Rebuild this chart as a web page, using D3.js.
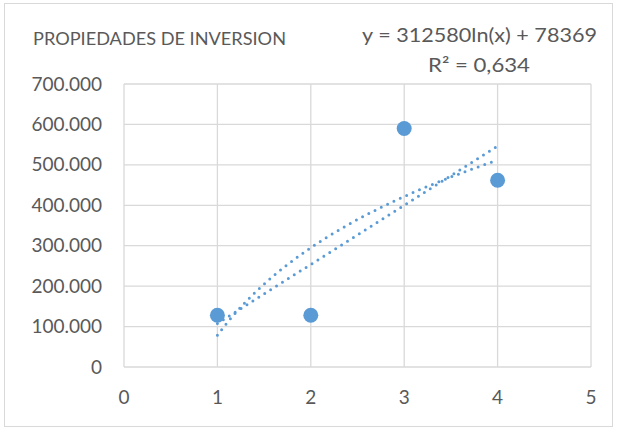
<!DOCTYPE html>
<html><head><meta charset="utf-8">
<script src="https://cdn.jsdelivr.net/npm/d3@7"></script>
<style>body{margin:0;background:#fff}svg{display:block}text{font-family:Lato,"Open Sans",sans-serif;fill:#595959}</style>
</head><body>
<script>
const xValues = [1, 2, 3, 4];
const yValues = [128000, 128000, 590000, 462000];
const xTicks = [0, 1, 2, 3, 4, 5];
const yTicks = [0, 100000, 200000, 300000, 400000, 500000, 600000, 700000];
const title = "PROPIEDADES DE INVERSION";
const equation = "y = 312580ln(x) + 78369";
const r2 = "R² = 0,634";
const logA = 312580, logB = 78369;

const W = 617, H = 429;
const svg = d3.select("body").append("svg").attr("width", W).attr("height", H);
svg.append("rect").attr("x", 4.5).attr("y", 3.5).attr("width", 608).attr("height", 423)
  .attr("fill", "#fff").attr("stroke", "#d9d9d9");

const x = d3.scaleLinear().domain([0, 5]).range([124, 591]);
const y = d3.scaleLinear().domain([0, 700000]).range([367, 84]);

const g = svg.append("g");
g.selectAll(".vg").data(xTicks).join("line").attr("x1", d => x(d)).attr("x2", d => x(d))
  .attr("y1", y(0)).attr("y2", y(700000)).attr("stroke", "#d9d9d9").attr("stroke-width", 1.3);
g.selectAll(".hg").data(yTicks).join("line").attr("y1", d => y(d)).attr("y2", d => y(d))
  .attr("x1", x(0)).attr("x2", x(5)).attr("stroke", "#d9d9d9").attr("stroke-width", 1.3);

const fmt = d => d === 0 ? "0" : d3.format(",")(d).replace(/,/g, ".");
g.selectAll(".yl").data(yTicks).join("text").attr("x", 102).attr("y", d => y(d) + 6.5)
  .attr("text-anchor", "end").attr("font-size", 19).text(fmt);
g.selectAll(".xl").data(xTicks).join("text").attr("x", d => x(d)).attr("y", 404)
  .attr("text-anchor", "middle").attr("font-size", 19).text(d => d);

// linear regression
const mx = d3.mean(xValues), my = d3.mean(yValues);
const slope = d3.sum(xValues.map((v, i) => (v - mx) * (yValues[i] - my))) / d3.sum(xValues.map(v => (v - mx) ** 2));
const icpt = my - slope * mx;
const xs = d3.range(1, 4.0001, 0.05);
const line = d3.line().x(d => x(d[0])).y(d => y(d[1]));
const dotStyle = p => p.attr("fill", "none").attr("stroke", "#5B9BD5").attr("stroke-width", 3)
  .attr("stroke-linecap", "round").attr("stroke-dasharray", "0,7");
svg.append("path").attr("d", line(xs.map(v => [v, slope * v + icpt]))).call(dotStyle);
svg.append("path").attr("d", line(xs.map(v => [v, logA * Math.log(v) + logB]))).call(dotStyle);

svg.selectAll(".pt").data(xValues).join("circle").attr("cx", d => x(d)).attr("cy", (d, i) => y(yValues[i]))
  .attr("r", 7.5).attr("fill", "#5B9BD5");

svg.append("text").attr("x", 33).attr("y", 45).attr("font-size", 17).attr("textLength", 253)
  .attr("lengthAdjust", "spacingAndGlyphs").text(title);
svg.append("text").attr("x", 362).attr("y", 42).attr("font-size", 19).attr("textLength", 235)
  .attr("lengthAdjust", "spacingAndGlyphs").text(equation);
svg.append("text").attr("x", 428).attr("y", 72).attr("font-size", 19).attr("textLength", 102)
  .attr("lengthAdjust", "spacingAndGlyphs").text(r2);
</script>
</body></html>
